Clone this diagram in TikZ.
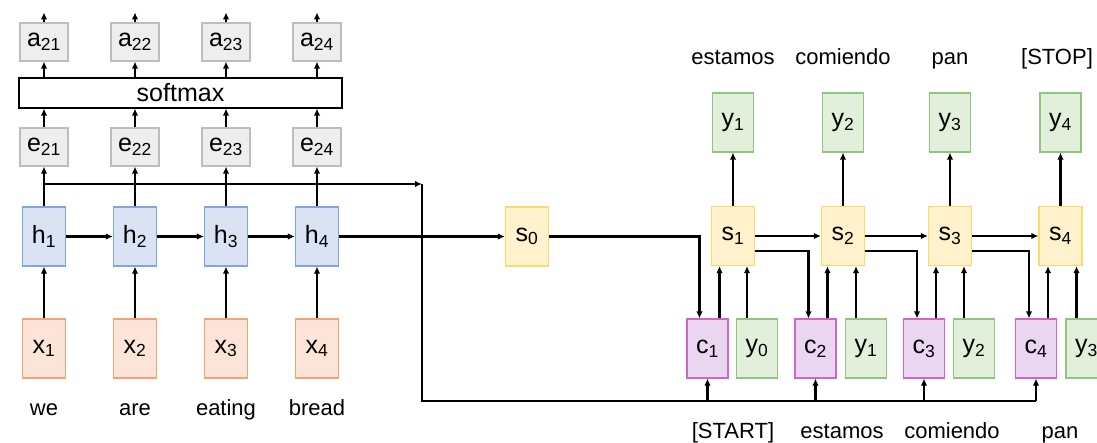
\documentclass[tikz,border=0pt]{standalone}
\usepackage{fontspec}
\setmainfont{Liberation Sans}
\usetikzlibrary{arrows.meta}
\definecolor{gfill}{HTML}{EEEEEE}\definecolor{gline}{HTML}{BDBDBD}
\definecolor{hfill}{HTML}{DAE3F3}\definecolor{hline}{HTML}{7EA6E0}
\definecolor{xfill}{HTML}{FCE5D8}\definecolor{xline}{HTML}{F5A36E}
\definecolor{sfill}{HTML}{FFF2CC}\definecolor{sline}{HTML}{FFD966}
\definecolor{cfill}{HTML}{EAD6F1}\definecolor{cline}{HTML}{CC66CC}
\definecolor{yfill}{HTML}{E2EFDA}\definecolor{yline}{HTML}{93C47D}
\tikzset{
  cell/.style={draw,line width=1.2pt,inner sep=0pt,minimum width=43pt,minimum height=59pt,
    font=\fontsize{25}{25}\selectfont},
  gbox/.style={cell,fill=gfill,draw=gline,minimum width=48pt,minimum height=38pt},
  hbox/.style={cell,fill=hfill,draw=hline},
  xbox/.style={cell,fill=xfill,draw=xline},
  sbox/.style={cell,fill=sfill,draw=sline},
  cbox/.style={cell,fill=cfill,draw=cline,minimum width=41pt},
  ybox/.style={cell,fill=yfill,draw=yline,minimum width=41pt},
  word/.style={anchor=base,font=\fontsize{22}{22}\selectfont},
  arr/.style={line width=2.3pt,-{Latex[length=7pt,width=6.5pt]}},
  wire/.style={line width=2.3pt}
}
\begin{document}
\begin{tikzpicture}[x=1pt,y=-1pt]
\useasboundingbox (0,0) rectangle (1097,443);
% Encoder: attention weights
\node[gbox] (a21) at (44,42) {a\textsubscript{21}};
\node[gbox] (a22) at (135,42) {a\textsubscript{22}};
\node[gbox] (a23) at (226,42) {a\textsubscript{23}};
\node[gbox] (a24) at (317,42) {a\textsubscript{24}};
\node[cell,draw=black,minimum width=323pt,minimum height=30pt] (smax) at (180.5,93) {softmax};
\node[gbox] (e21) at (44,147) {e\textsubscript{21}};
\node[gbox] (e22) at (135,147) {e\textsubscript{22}};
\node[gbox] (e23) at (226,147) {e\textsubscript{23}};
\node[gbox] (e24) at (317,147) {e\textsubscript{24}};
% Encoder: hidden states and inputs
\node[hbox] (h1) at (44,236.5) {h\textsubscript{1}};
\node[hbox] (h2) at (135,236.5) {h\textsubscript{2}};
\node[hbox] (h3) at (226,236.5) {h\textsubscript{3}};
\node[hbox] (h4) at (317,236.5) {h\textsubscript{4}};
\node[xbox] (x1) at (44,348.5) {x\textsubscript{1}};
\node[xbox] (x2) at (135,348.5) {x\textsubscript{2}};
\node[xbox] (x3) at (226,348.5) {x\textsubscript{3}};
\node[xbox] (x4) at (317,348.5) {x\textsubscript{4}};
\node[word] (w1) at (44,415) {we};
\node[word] (w2) at (135,415) {are};
\node[word] (w3) at (226,415) {eating};
\node[word] (w4) at (317,415) {bread};
\foreach \i in {1,...,4}{
  \draw[arr] (x\i.north) -- (h\i.south);
  \draw[arr] (h\i.north) -- (e2\i.south);
  \draw[arr] (e2\i.north) -- (e2\i.north |- smax.south);
  \draw[arr] (a2\i.north |- smax.north) -- (a2\i.south);
  \draw[arr] (a2\i.north) -- ++(0,-10);
}
\draw[arr] (h1) -- (h2);
\draw[arr] (h2) -- (h3);
\draw[arr] (h3) -- (h4);
% Decoder
\node[sbox] (s0) at (527,236.5) {s\textsubscript{0}};
\node[sbox] (s1) at (733,236) {s\textsubscript{1}};
\node[sbox] (s2) at (843,236) {s\textsubscript{2}};
\node[sbox] (s3) at (950,236) {s\textsubscript{3}};
\node[sbox] (s4) at (1060.5,236) {s\textsubscript{4}};
\node[ybox] (y1) at (733,122.5) {y\textsubscript{1}};
\node[ybox] (y2) at (843,122.5) {y\textsubscript{2}};
\node[ybox] (y3) at (950,122.5) {y\textsubscript{3}};
\node[ybox] (y4) at (1060.5,122.5) {y\textsubscript{4}};
\node[cbox] (c1) at (707.5,348.5) {c\textsubscript{1}};
\node[cbox] (c2) at (815.5,348.5) {c\textsubscript{2}};
\node[cbox] (c3) at (924,348.5) {c\textsubscript{3}};
\node[cbox] (c4) at (1036,348.5) {c\textsubscript{4}};
\node[ybox] (in0) at (757,348.5) {y\textsubscript{0}};
\node[ybox] (in1) at (866,348.5) {y\textsubscript{1}};
\node[ybox] (in2) at (974,348.5) {y\textsubscript{2}};
\node[ybox] (in3) at (1086.5,348.5) {y\textsubscript{3}};
\node[word] (o1) at (733,65) {estamos};
\node[word] (o2) at (843,65) {comiendo};
\node[word] (o3) at (950,65) {pan};
\node[word] (o4) at (1057,65) {[STOP]};
\node[word] (t1) at (733,438) {[START]};
\node[word] (t2) at (842,438) {estamos};
\node[word] (t3) at (952,438) {comiendo};
\node[word] (t4) at (1060,438) {pan};
\draw[arr] (h4) -- (s0);
\draw[arr] (s0.east) -| ([xshift=-8pt]c1.north);
\draw[arr] (s1) -- (s2);
\draw[arr] (s2) -- (s3);
\draw[arr] (s3) -- (s4);
\draw[arr] ([yshift=-15pt]s1.east) -| ([xshift=-7pt]c2.north);
\draw[arr] ([yshift=-15pt]s2.east) -| ([xshift=-7pt]c3.north);
\draw[arr] ([yshift=-15pt]s3.east) -| ([xshift=-7pt]c4.north);
\foreach \i/\j in {1/0,2/1,3/2,4/3}{
  \draw[arr] (s\i.north) -- (y\i.south);
  \draw[arr] ([xshift=12pt]c\i.north) -- ([xshift=12pt]c\i.north |- s\i.south);
  \draw[arr] ([xshift=-10pt]in\j.north) -- ([xshift=-10pt]in\j.north |- s\i.south);
}
% Attention bus from the encoder states
\coordinate (tap) at (44,184);
\coordinate (bus) at (422,184);
\coordinate (busb) at (422,401);
\draw[arr] (tap) -- (bus);
\draw[wire] (bus) -- (busb) -- (busb -| c4);
\foreach \i in {1,...,4}
  \draw[arr] (busb -| c\i) -- (c\i.south);
\end{tikzpicture}
\end{document}
